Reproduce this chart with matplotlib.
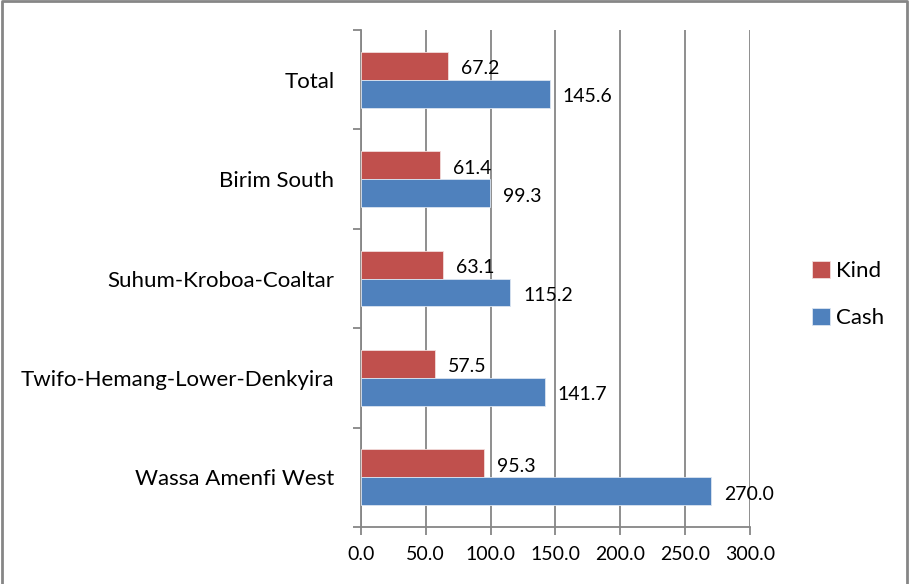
import numpy as np
import matplotlib.pyplot as plt
from matplotlib.lines import Line2D

plt.rcParams["font.family"] = ["Lato", "DejaVu Sans"]

# data (bottom to top)
districts = ["Wassa Amenfi West", "Twifo-Hemang-Lower-Denkyira",
             "Suhum-Kroboa-Coaltar", "Birim South", "Total"]
kind = [95.3, 57.5, 63.1, 61.4, 67.2]
cash = [270.0, 141.7, 115.2, 99.3, 145.6]

kind_color = "#C0504D"
cash_color = "#4F81BD"

fig = plt.figure(figsize=(9.09, 5.84), dpi=100)
ax = fig.add_axes([0.397, 0.0976, 0.428, 0.851])

y = np.arange(len(districts))
h = 0.28
ax.barh(y + h / 2, kind, height=h, color=kind_color, edgecolor="#f2dcdb",
        linewidth=0.6, label="Kind", zorder=3)
ax.barh(y - h / 2, cash, height=h, color=cash_color, edgecolor="#dbe5f1",
        linewidth=0.6, label="Cash", zorder=3)

for yi, v in zip(y, kind):
    ax.text(v + 10, yi + h / 2 - 0.03, f"{v:.1f}", va="center", ha="left", fontsize=14)
for yi, v in zip(y, cash):
    ax.text(v + 10, yi - h / 2 - 0.03, f"{v:.1f}", va="center", ha="left", fontsize=14)

ax.set_xlim(0, 300)
ax.set_ylim(-0.5, len(districts) - 0.5)
ax.set_xticks(np.arange(0, 301, 50))
ax.set_xticklabels([f"{t:.1f}" for t in np.arange(0, 301, 50)], fontsize=14)
ax.set_yticks(y)
ax.set_yticklabels(districts, fontsize=16)
ax.set_yticks(np.arange(-0.5, len(districts), 1), minor=True)
ax.tick_params(axis="y", which="major", length=0, pad=19)
ax.tick_params(axis="y", which="minor", length=6, color="#868686", width=1.3)
ax.tick_params(axis="x", length=6, color="#868686", width=1.3, pad=8)

ax.grid(axis="x", color="#868686", linewidth=1.3, zorder=0)
for s in ["top", "right"]:
    ax.spines[s].set_visible(False)
for s in ["left", "bottom"]:
    ax.spines[s].set_color("#868686")
    ax.spines[s].set_linewidth(1.3)

ax.legend(loc="center left", bbox_to_anchor=(1.108, 0.468), frameon=False,
          fontsize=16, handlelength=0.8, handleheight=0.8, labelspacing=1.2,
          handletextpad=0.3)

# chart border (bottom edge is cut off in the original)
fig.add_artist(Line2D([0.002, 0.002, 0.9978, 0.9978], [0.0, 0.9975, 0.9975, 0.0],
                      transform=fig.transFigure, color="#868686", linewidth=2))

plt.savefig("out.png", dpi=100)
